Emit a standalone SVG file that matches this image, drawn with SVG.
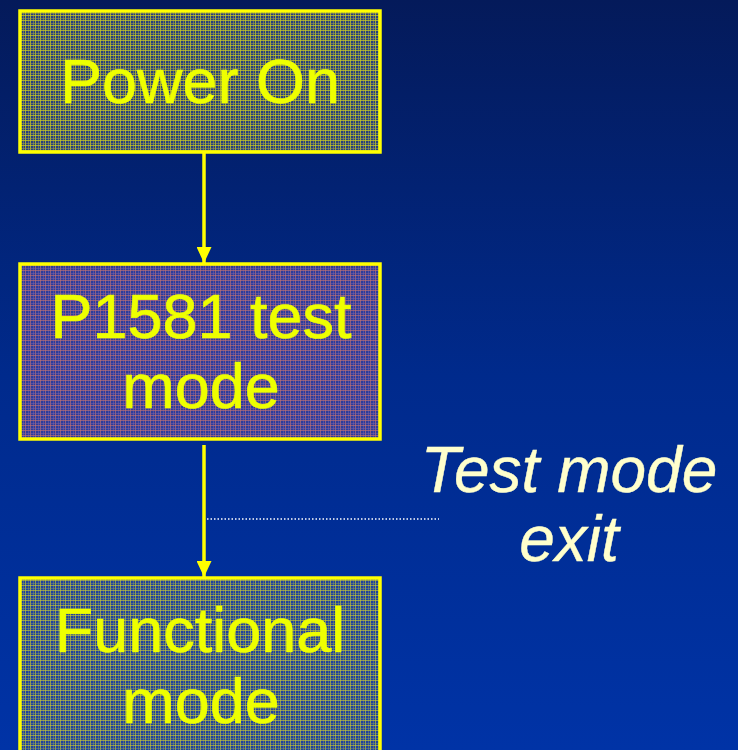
<svg xmlns="http://www.w3.org/2000/svg" width="738" height="750" viewBox="0 0 738 750">
<defs>
<linearGradient id="bg" x1="0" y1="0" x2="0" y2="1">
<stop offset="0" stop-color="#041a5a"/>
<stop offset="0.5" stop-color="#002a8c"/>
<stop offset="1" stop-color="#0033a6"/>
</linearGradient>
<pattern id="plaidY" width="5" height="5" patternUnits="userSpaceOnUse">
<rect width="5" height="5" fill="#253f80"/>
<rect x="0" y="0" width="1" height="5" fill="#c8c820" opacity="0.75"/>
<rect x="3" y="0" width="1" height="5" fill="#a0a040" opacity="0.55"/>
<rect x="0" y="0" width="5" height="1" fill="#c8c820" opacity="0.75"/>
<rect x="0" y="3" width="5" height="1" fill="#a0a040" opacity="0.55"/>
</pattern>
<pattern id="plaidY3" width="5" height="5" patternUnits="userSpaceOnUse">
<rect width="5" height="5" fill="#1f42a0"/>
<rect x="0" y="0" width="1" height="5" fill="#c8c830" opacity="0.65"/>
<rect x="3" y="0" width="1" height="5" fill="#90a050" opacity="0.45"/>
<rect x="0" y="0" width="5" height="1" fill="#c8c830" opacity="0.65"/>
<rect x="0" y="3" width="5" height="1" fill="#90a050" opacity="0.45"/>
</pattern>
<pattern id="plaidR" width="5" height="5" patternUnits="userSpaceOnUse">
<rect width="5" height="5" fill="#2c3c9c"/>
<rect x="0" y="0" width="1" height="5" fill="#c07070" opacity="0.65"/>
<rect x="3" y="0" width="1" height="5" fill="#8060a0" opacity="0.5"/>
<rect x="0" y="0" width="5" height="1" fill="#c07070" opacity="0.65"/>
<rect x="0" y="3" width="5" height="1" fill="#8060a0" opacity="0.5"/>
</pattern>
<marker id="ah" markerWidth="16" markerHeight="15" refX="16" refY="7.5" orient="auto" markerUnits="userSpaceOnUse">
<path d="M0,0 L16,7.5 L0,15 Z" fill="#ffff00"/>
</marker>
<style>
.box{stroke:#ffff00;stroke-width:3.5}
.lbl{font-family:"Liberation Sans",Arial,sans-serif;font-size:63px;fill:#eeff00;stroke:#eeff00;stroke-width:0.6;text-anchor:middle}
.note{font-family:"Liberation Sans",Arial,sans-serif;font-size:64px;font-style:italic;fill:#ffffcc;stroke:#ffffcc;stroke-width:0.4;text-anchor:middle}
.conn{stroke:#ffff00;stroke-width:3.5;fill:none}
</style>
</defs>
<rect width="738" height="750" fill="url(#bg)"/>
<g id="power-on">
<rect class="box" x="20" y="11" width="360" height="141" fill="url(#plaidY)"/>
<text class="lbl" x="200" y="103">Power On</text>
</g>
<g id="p1581-test-mode">
<rect class="box" x="20" y="264" width="360" height="175" fill="url(#plaidR)"/>
<text class="lbl" x="201" y="338">P1581 test</text>
<text class="lbl" x="201" y="408">mode</text>
</g>
<g id="functional-mode">
<rect class="box" x="20" y="578" width="360" height="200" fill="url(#plaidY3)"/>
<text class="lbl" x="200" y="652">Functional</text>
<text class="lbl" x="201" y="723">mode</text>
</g>
<g id="connectors">
<line class="conn" x1="204" y1="153" x2="204" y2="263" marker-end="url(#ah)"/>
<line class="conn" x1="204" y1="445" x2="204" y2="577" marker-end="url(#ah)"/>
<line x1="207" y1="519" x2="439" y2="519" stroke="#ffffff" stroke-width="1.5" stroke-dasharray="1.5,2"/>
</g>
<g id="test-mode-exit">
<text class="note" x="569" y="492">Test mode</text>
<text class="note" x="569" y="561">exit</text>
</g>
</svg>
